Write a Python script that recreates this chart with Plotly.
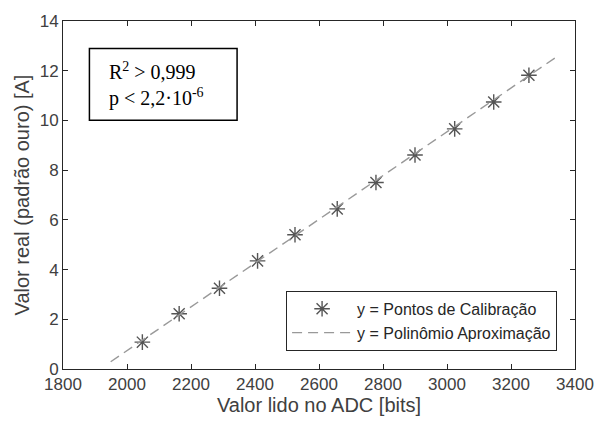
import plotly.graph_objects as go

# Calibration points (ADC reading [bits], real value [A])
adc_points = [2048, 2163, 2289, 2408, 2525, 2657, 2778, 2900, 3024, 3146, 3256]
real_points = [1.08, 2.22, 3.25, 4.35, 5.40, 6.44, 7.50, 8.61, 9.66, 10.74, 11.82]

# Fitted polynomial line endpoints
fit_x = [1949, 3345]
fit_y = [0.29, 12.58]

x_ticks = [1800, 2000, 2200, 2400, 2600, 2800, 3000, 3200, 3400]
y_ticks = [0, 2, 4, 6, 8, 10, 12, 14]

FONT = "Liberation Sans"

fig = go.Figure()
fig.add_trace(go.Scatter(
    x=adc_points, y=real_points, mode="markers",
    name="y = Pontos de Calibração",
    marker=dict(symbol="asterisk-open", size=13,
                line=dict(color="#555555", width=1.4), color="#555555"),
))
fig.add_trace(go.Scatter(
    x=fit_x, y=fit_y, mode="lines",
    name="y = Polinômio Aproximação",
    line=dict(color="#999999", width=1.4, dash="10px,6px"),
))

axis_common = dict(
    showgrid=False, zeroline=False, showline=True, mirror="ticks",
    linecolor="#262626", linewidth=1, ticks="inside", ticklen=5,
    tickcolor="#262626", tickfont=dict(family=FONT, size=17, color="#404040"),
    title_font=dict(family=FONT, size=20, color="#404040"),
)

fig.update_layout(
    width=606, height=426,
    margin=dict(l=63, r=20, t=14, b=57),
    paper_bgcolor="white", plot_bgcolor="white",
    xaxis=dict(range=[1800, 3400], tickvals=x_ticks,
               title=dict(text="Valor lido no ADC [bits]", standoff=4), **axis_common),
    yaxis=dict(range=[0, 14], tickvals=y_ticks,
               title=dict(text="Valor real (padrão ouro) [A]", standoff=4), **axis_common),
    legend=dict(x=0.965, y=0.052, xanchor="right", yanchor="bottom",
                bgcolor="white", bordercolor="#262626", borderwidth=1,
                font=dict(family=FONT, size=16, color="#262626"),
                tracegroupgap=0, itemwidth=60),
    showlegend=True,
)

fig.add_shape(type="rect", xref="paper", yref="paper",
              x0=0.0516, x1=0.340, y0=0.715, y1=0.921,
              line=dict(color="black", width=1.5), fillcolor="white", layer="above")
fig.add_annotation(xref="paper", yref="paper", x=0.085, y=0.818,
                   xanchor="left", yanchor="middle", align="left", showarrow=False,
                   text="R<sup>2</sup> &gt; 0,999<br>p &lt; 2,2·10<sup>-6</sup>",
                   font=dict(family="Liberation Serif", size=20, color="black"))

fig.write_html("out.html")
